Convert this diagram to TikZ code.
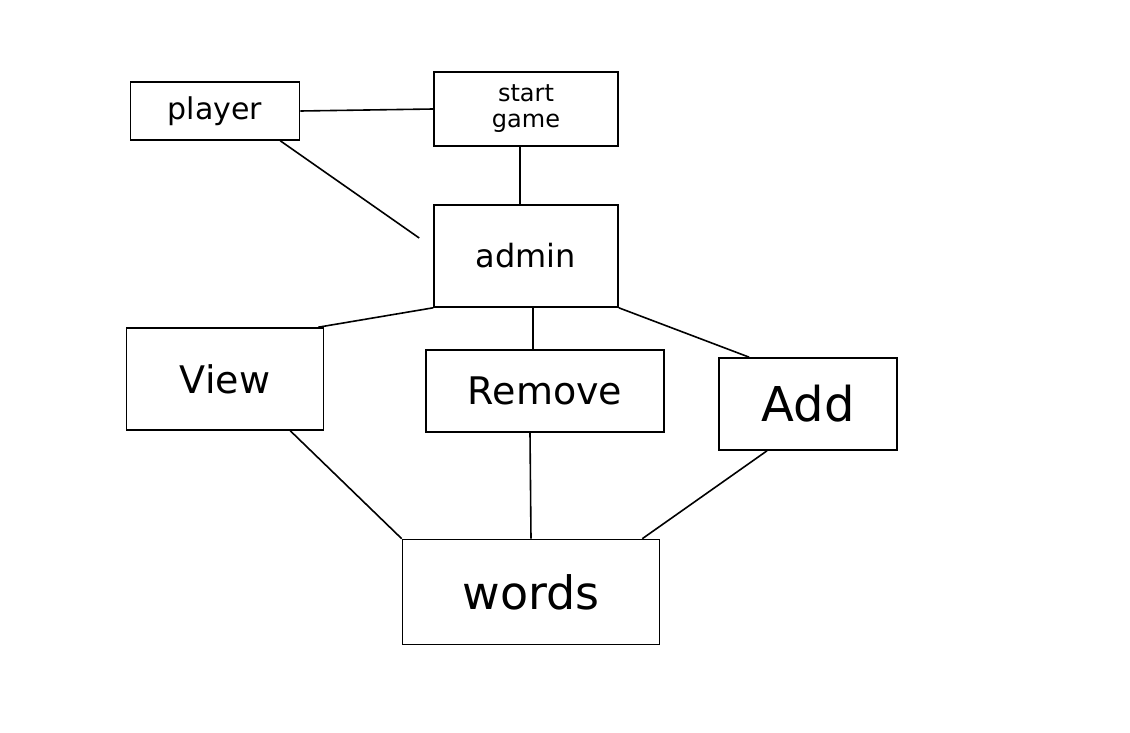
\documentclass[tikz,border=0pt]{standalone}
\usepackage{fontspec}
\setmainfont{DejaVu Sans}
\usetikzlibrary{positioning}

\begin{document}
\begin{tikzpicture}[
        x=1pt, y=-1pt,
        box/.style={draw, line width=1.6pt, inner sep=0pt, align=center},
        link/.style={line width=1.6pt}
    ]
    \useasboundingbox (0,0) rectangle (1130,733);

    % Top row
    \node[box, minimum width=169pt, minimum height=58pt, font=\fontsize{30}{30}\selectfont] (player) at (215,111) {player};
    \node[box, minimum width=184pt, minimum height=74pt, font=\fontsize{24}{26}\selectfont] (start) at (526,109) {start\\game};

    % Admin
    \node[box, minimum width=184pt, minimum height=102pt, font=\fontsize{32}{32}\selectfont] (admin) at (526,256) {admin};

    % Actions
    \node[box, minimum width=197pt, minimum height=102pt, font=\fontsize{38}{38}\selectfont] (view) at (225,379) {View};
    \node[box, minimum width=238pt, minimum height=82pt, font=\fontsize{38}{38}\selectfont] (remove) at (545,391) {Remove};
    \node[box, minimum width=178pt, minimum height=92pt, font=\fontsize{48}{48}\selectfont] (add) at (808,404) {Add};

    % Data
    \node[box, minimum width=257pt, minimum height=105pt, font=\fontsize{46}{46}\selectfont] (words) at (531,592) {words};

    % Links
    \draw[link] (player.east) -- (start.west);
    \draw[link] ([xshift=-20pt]player.south east) -- ([xshift=-14pt,yshift=18pt]admin.west);
    \draw[link] ([xshift=-6pt]start.south) -- ([xshift=-6pt]admin.north);
    \draw[link] (admin.south west) -- ([xshift=-6pt]view.north east);
    \draw[link] ([xshift=7pt]admin.south) -- ([xshift=-12pt]remove.north);
    \draw[link] (admin.south east) -- ([xshift=31pt]add.north west);
    \draw[link] ([xshift=-34pt]view.south east) -- (words.north west);
    \draw[link] ([xshift=-15pt]remove.south) -- (words.north);
    \draw[link] ([xshift=-41pt]add.south) -- ([xshift=-18pt]words.north east);

\end{tikzpicture}
\end{document}
